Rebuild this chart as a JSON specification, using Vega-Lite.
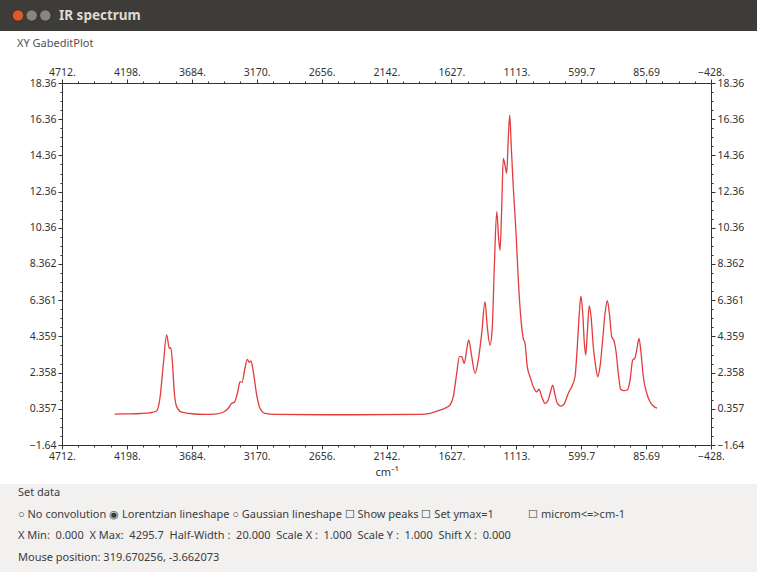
{
  "$schema": "https://vega.github.io/schema/vega-lite/v6.json",
  "background": "#ffffff",
  "padding": 0,
  "spacing": 7,
  "config": {"view": {"stroke": null}, "font": "Noto Sans"},
  "vconcat": [
    {
      "width": 757,
      "height": 31,
      "view": {"fill": "#3d3c38", "stroke": null},
      "data": {"values": [{"item": "close"}, {"item": "minimize"}, {"item": "maximize"}, {"item": "IR spectrum"}]},
      "encoding": {
        "x": {"field": "item", "type": "nominal", "sort": null, "axis": null,
              "scale": {"type": "point", "domain": ["close", "minimize", "maximize", "IR spectrum"], "range": [18, 59], "padding": 0}}
      },
      "layer": [
        {
          "transform": [{"filter": "datum.item !== 'IR spectrum'"}],
          "mark": {"type": "circle", "size": 130, "opacity": 1, "stroke": "#2b2a27", "strokeWidth": 0.8},
          "encoding": {
            "color": {"field": "item", "type": "nominal", "legend": null,
                      "scale": {"domain": ["close", "minimize", "maximize"], "range": ["#e0592d", "#86857f", "#86857f"]}}
          }
        },
        {
          "transform": [{"filter": "datum.item === 'IR spectrum'"}],
          "mark": {"type": "text", "align": "left", "fontWeight": "bold", "fontSize": 13.5, "color": "#dfdbd2"},
          "encoding": {"text": {"field": "item"}}
        }
      ]
    },
    {
      "spacing": 0,
      "hconcat": [
        {
          "width": 1,
          "height": 362,
          "data": {"values": [{"t": ""}]},
          "mark": {"type": "text"},
          "encoding": {"text": {"field": "t"}}
        },
        {
          "title": {"text": "XY GabeditPlot", "anchor": "start", "frame": "bounds", "fontSize": 11, "fontWeight": "normal", "color": "#505050", "dx": 16, "offset": 6},
          "width": 649,
          "height": 362,
          "view": {"fill": "#ffffff", "stroke": null},
          "data": {"values": [
            {"wn": 4295.7, "ir": 0.07}, {"wn": 4200, "ir": 0.08}, {"wn": 4094, "ir": 0.10}, {"wn": 4015, "ir": 0.14},
            {"wn": 3962, "ir": 0.24}, {"wn": 3936, "ir": 0.96}, {"wn": 3910, "ir": 2.78}, {"wn": 3883, "ir": 4.44},
            {"wn": 3862, "ir": 3.70}, {"wn": 3851, "ir": 3.74}, {"wn": 3838, "ir": 2.96}, {"wn": 3823, "ir": 1.30},
            {"wn": 3804, "ir": 0.48}, {"wn": 3764, "ir": 0.17}, {"wn": 3698, "ir": 0.10}, {"wn": 3579, "ir": 0.05},
            {"wn": 3500, "ir": 0.07}, {"wn": 3435, "ir": 0.17}, {"wn": 3395, "ir": 0.39}, {"wn": 3368, "ir": 0.66},
            {"wn": 3347, "ir": 0.72}, {"wn": 3320, "ir": 1.30}, {"wn": 3302, "ir": 1.86}, {"wn": 3286, "ir": 1.82},
            {"wn": 3263, "ir": 2.60}, {"wn": 3244, "ir": 3.09}, {"wn": 3229, "ir": 2.93}, {"wn": 3215, "ir": 3.00},
            {"wn": 3197, "ir": 2.41}, {"wn": 3170, "ir": 1.12}, {"wn": 3144, "ir": 0.39}, {"wn": 3104, "ir": 0.11},
            {"wn": 3025, "ir": 0.05}, {"wn": 2431, "ir": 0.03}, {"wn": 1877, "ir": 0.05}, {"wn": 1797, "ir": 0.11},
            {"wn": 1718, "ir": 0.29}, {"wn": 1679, "ir": 0.39}, {"wn": 1639, "ir": 0.57}, {"wn": 1613, "ir": 1.03},
            {"wn": 1586, "ir": 2.32}, {"wn": 1565, "ir": 3.24}, {"wn": 1546, "ir": 3.24}, {"wn": 1526, "ir": 2.87},
            {"wn": 1507, "ir": 3.61}, {"wn": 1491, "ir": 4.16}, {"wn": 1467, "ir": 3.24}, {"wn": 1441, "ir": 2.32},
            {"wn": 1415, "ir": 3.06}, {"wn": 1388, "ir": 4.53}, {"wn": 1362, "ir": 6.28}, {"wn": 1344, "ir": 4.90},
            {"wn": 1322, "ir": 3.88}, {"wn": 1304, "ir": 4.90}, {"wn": 1288, "ir": 8.21}, {"wn": 1269, "ir": 11.25},
            {"wn": 1253, "ir": 9.69}, {"wn": 1243, "ir": 9.13}, {"wn": 1230, "ir": 11.34}, {"wn": 1217, "ir": 14.20},
            {"wn": 1201, "ir": 13.74}, {"wn": 1190, "ir": 13.37}, {"wn": 1177, "ir": 15.39}, {"wn": 1166, "ir": 16.59},
            {"wn": 1154, "ir": 14.84}, {"wn": 1138, "ir": 12.63}, {"wn": 1116, "ir": 10.06}, {"wn": 1098, "ir": 7.48},
            {"wn": 1079, "ir": 5.45}, {"wn": 1059, "ir": 4.25}, {"wn": 1045, "ir": 3.98}, {"wn": 1027, "ir": 2.69},
            {"wn": 1005, "ir": 2.13}, {"wn": 979, "ir": 1.58}, {"wn": 954, "ir": 1.30}, {"wn": 934, "ir": 1.44},
            {"wn": 913, "ir": 1.03}, {"wn": 887, "ir": 0.66}, {"wn": 861, "ir": 0.85}, {"wn": 839, "ir": 1.40},
            {"wn": 826, "ir": 1.67}, {"wn": 807, "ir": 1.12}, {"wn": 789, "ir": 0.66}, {"wn": 762, "ir": 0.51},
            {"wn": 736, "ir": 0.62}, {"wn": 702, "ir": 1.22}, {"wn": 675, "ir": 1.58}, {"wn": 649, "ir": 2.13},
            {"wn": 631, "ir": 3.79}, {"wn": 615, "ir": 5.64}, {"wn": 602, "ir": 6.59}, {"wn": 588, "ir": 5.64},
            {"wn": 575, "ir": 3.98}, {"wn": 564, "ir": 3.33}, {"wn": 552, "ir": 4.53}, {"wn": 536, "ir": 6.04},
            {"wn": 522, "ir": 5.45}, {"wn": 504, "ir": 3.79}, {"wn": 485, "ir": 2.69}, {"wn": 469, "ir": 2.13},
            {"wn": 451, "ir": 2.69}, {"wn": 430, "ir": 4.16}, {"wn": 411, "ir": 5.64}, {"wn": 393, "ir": 6.33},
            {"wn": 377, "ir": 5.64}, {"wn": 358, "ir": 4.34}, {"wn": 340, "ir": 4.11}, {"wn": 324, "ir": 3.51},
            {"wn": 306, "ir": 2.32}, {"wn": 287, "ir": 1.44}, {"wn": 261, "ir": 1.36}, {"wn": 235, "ir": 1.40},
            {"wn": 213, "ir": 1.95}, {"wn": 192, "ir": 3.06}, {"wn": 176, "ir": 3.15}, {"wn": 160, "ir": 3.61},
            {"wn": 142, "ir": 4.25}, {"wn": 126, "ir": 3.43}, {"wn": 108, "ir": 2.13}, {"wn": 81, "ir": 1.22},
            {"wn": 55, "ir": 0.75}, {"wn": 23, "ir": 0.48}, {"wn": 0, "ir": 0.40}
          ]},
          "layer": [
            {
              "mark": {"type": "line", "color": "#e23c3c", "strokeWidth": 1.3, "interpolate": "monotone"},
              "encoding": {
                "x": {"field": "wn", "type": "quantitative",
                      "scale": {"domain": [-428, 4712], "reverse": true, "nice": false, "zero": false},
                      "axis": {"orient": "bottom", "title": "cm⁻¹", "titleFontSize": 11, "titleFontWeight": "normal", "titleColor": "#333333", "titlePadding": 3,
                               "values": [4712, 4583.5, 4455, 4326.5, 4198, 4069.5, 3941, 3812.5, 3684, 3555.5, 3427, 3298.5, 3170, 3041.5, 2913, 2784.5, 2656, 2527.5, 2399, 2270.5, 2142, 2013.5, 1885, 1756.5, 1627.4, 1499, 1370.5, 1242, 1113.4, 985, 856.5, 728, 599.7, 471, 342.5, 214, 85.69, -43, -171.5, -300, -428],
                               "labelExpr": "indexof([4712,4198,3684,3170,2656,2142,1627.4,1113.4,599.7,85.69,-428], datum.value) >= 0 ? (indexof(format(datum.value, '.4~r'), '.') >= 0 ? format(datum.value, '.4~r') : format(datum.value, '.4~r') + '.') : ''",
                               "tickSize": {"condition": {"test": "indexof([4712,4198,3684,3170,2656,2142,1627.4,1113.4,599.7,85.69,-428], datum.value) >= 0", "value": 4}, "value": 2},
                               "labelFontSize": 10.5, "labelColor": "#333333", "labelPadding": 2, "labelFlush": false, "labelOverlap": false, "labelBound": false,
                               "tickColor": "#333333", "domainColor": "#333333", "grid": false, "minExtent": 18, "maxExtent": 18}},
                "y": {"field": "ir", "type": "quantitative",
                      "scale": {"domain": [-1.64, 18.36], "nice": false, "zero": false},
                      "axis": {"orient": "left", "title": null,
                               "values": [-1.64, -1.14, -0.64, -0.14, 0.357, 0.857, 1.357, 1.857, 2.358, 2.858, 3.358, 3.858, 4.359, 4.859, 5.359, 5.859, 6.361, 6.861, 7.361, 7.861, 8.362, 8.862, 9.362, 9.862, 10.36, 10.86, 11.36, 11.86, 12.36, 12.86, 13.36, 13.86, 14.36, 14.86, 15.36, 15.86, 16.36, 16.86, 17.36, 17.86, 18.36],
                               "labelExpr": "indexof([-1.64,0.357,2.358,4.359,6.361,8.362,10.36,12.36,14.36,16.36,18.36], datum.value) >= 0 ? format(datum.value, '.4~r') : ''",
                               "tickSize": {"condition": {"test": "indexof([-1.64,0.357,2.358,4.359,6.361,8.362,10.36,12.36,14.36,16.36,18.36], datum.value) >= 0", "value": 4}, "value": 2},
                               "labelFontSize": 10.5, "labelColor": "#333333", "labelPadding": 2, "labelFlush": false, "labelOverlap": false, "labelBound": false,
                               "tickColor": "#333333", "domainColor": "#333333", "grid": false, "minExtent": 61, "maxExtent": 61}}
              }
            },
            {
              "mark": {"type": "line", "opacity": 0},
              "encoding": {
                "x": {"field": "wn", "type": "quantitative",
                      "scale": {"domain": [-428, 4712], "reverse": true, "nice": false, "zero": false},
                      "axis": {"orient": "top", "title": null,
                               "values": [4712, 4583.5, 4455, 4326.5, 4198, 4069.5, 3941, 3812.5, 3684, 3555.5, 3427, 3298.5, 3170, 3041.5, 2913, 2784.5, 2656, 2527.5, 2399, 2270.5, 2142, 2013.5, 1885, 1756.5, 1627.4, 1499, 1370.5, 1242, 1113.4, 985, 856.5, 728, 599.7, 471, 342.5, 214, 85.69, -43, -171.5, -300, -428],
                               "labelExpr": "indexof([4712,4198,3684,3170,2656,2142,1627.4,1113.4,599.7,85.69,-428], datum.value) >= 0 ? (indexof(format(datum.value, '.4~r'), '.') >= 0 ? format(datum.value, '.4~r') : format(datum.value, '.4~r') + '.') : ''",
                               "tickSize": {"condition": {"test": "indexof([4712,4198,3684,3170,2656,2142,1627.4,1113.4,599.7,85.69,-428], datum.value) >= 0", "value": 4}, "value": 2},
                               "labelFontSize": 10.5, "labelColor": "#333333", "labelPadding": 2, "labelFlush": false, "labelOverlap": false, "labelBound": false,
                               "tickColor": "#333333", "domainColor": "#333333", "grid": false, "minExtent": 28, "maxExtent": 28}},
                "y": {"field": "ir", "type": "quantitative",
                      "scale": {"domain": [-1.64, 18.36], "nice": false, "zero": false},
                      "axis": {"orient": "right", "title": null,
                               "values": [-1.64, -1.14, -0.64, -0.14, 0.357, 0.857, 1.357, 1.857, 2.358, 2.858, 3.358, 3.858, 4.359, 4.859, 5.359, 5.859, 6.361, 6.861, 7.361, 7.861, 8.362, 8.862, 9.362, 9.862, 10.36, 10.86, 11.36, 11.86, 12.36, 12.86, 13.36, 13.86, 14.36, 14.86, 15.36, 15.86, 16.36, 16.86, 17.36, 17.86, 18.36],
                               "labelExpr": "indexof([-1.64,0.357,2.358,4.359,6.361,8.362,10.36,12.36,14.36,16.36,18.36], datum.value) >= 0 ? format(datum.value, '.4~r') : ''",
                               "tickSize": {"condition": {"test": "indexof([-1.64,0.357,2.358,4.359,6.361,8.362,10.36,12.36,14.36,16.36,18.36], datum.value) >= 0", "value": 4}, "value": 2},
                               "labelFontSize": 10.5, "labelColor": "#333333", "labelPadding": 2, "labelFlush": false, "labelOverlap": false, "labelBound": false,
                               "tickColor": "#333333", "domainColor": "#333333", "grid": false, "minExtent": 40, "maxExtent": 40}}
              }
            }
          ],
          "resolve": {"scale": {"x": "independent", "y": "independent"}, "axis": {"x": "independent", "y": "independent"}}
        }
      ]
    },
    {
      "width": 757,
      "height": 88,
      "view": {"fill": "#f2f1f0", "stroke": null},
      "title": {
        "text": [
          "Set data",
          "○ No convolution ◉ Lorentzian lineshape ○ Gaussian lineshape ☐ Show peaks ☐ Set ymax=1\u00a0\u00a0\u00a0\u00a0\u00a0\u00a0\u00a0\u00a0\u00a0\u00a0\u00a0 ☐ microm<=>cm-1",
          "X Min: \u00a00.000 \u00a0X Max: \u00a04295.7 \u00a0Half-Width : \u00a020.000 \u00a0Scale X : \u00a01.000 \u00a0Scale Y : \u00a01.000 \u00a0Shift X : \u00a00.000",
          "Mouse position: 319.670256, -3.662073"
        ],
        "anchor": "start", "frame": "group", "orient": "top", "offset": -79, "dx": 18,
        "fontSize": 11, "fontWeight": "normal", "color": "#3c3c3c", "lineHeight": 21.7
      },
      "data": {"values": [{"t": ""}]},
      "mark": {"type": "text"},
      "encoding": {"text": {"field": "t"}}
    }
  ]
}
